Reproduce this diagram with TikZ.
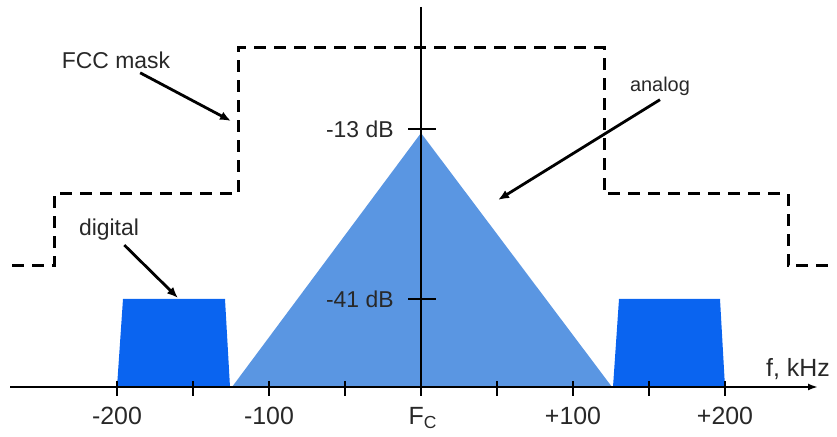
\documentclass[tikz,border=0pt]{standalone}
\usepackage{fontspec}
\setmainfont{Liberation Sans}
\usetikzlibrary{positioning,arrows.meta}
\definecolor{digblue}{RGB}{10,100,240}
\definecolor{anablue}{RGB}{90,150,226}
\definecolor{labgray}{RGB}{40,40,40}

\begin{document}
\begin{tikzpicture}[x=0.5bp, y=-0.5bp,
    >={Latex[length=5.5bp,width=4.5bp]},
    lab/.style={font=\fontsize{11.5}{13}\selectfont, text=labgray, inner sep=2bp},
    tick/.style={font=\fontsize{12.5}{14}\selectfont, text=labgray},
    mask/.style={line width=1.5bp, dash pattern=on 6bp off 4bp},
    pointer/.style={->, line width=1.4bp}]
  \useasboundingbox (0,0) rectangle (837,437);
  % spectra
  \fill[anablue] (232,387) -- (421,133) -- (612,387) -- cycle;
  \fill[digblue] (117,387) -- (123,299) -- (225,299) -- (230,387) -- cycle;
  \fill[digblue] (613,387) -- (619,299) -- (720,299) -- (725,387) -- cycle;
  % FCC mask
  \draw[mask] (12,266) -- (54,266) -- (54,194) -- (238,194) -- (238,48)
    -- (604,48) -- (604,194) -- (788,194) -- (788,266) -- (830,266);
  % axes
  \draw[line width=1bp, -{Latex[length=5bp,width=3.5bp]}] (10,387) -- (818,387);
  \draw[line width=1bp] (421,7) -- (421,387);
  \foreach \k in {-200,-150,...,200}
    \draw[line width=1bp] ({421+1.52*\k},381) -- ++(0,15);
  \draw[line width=1bp] (408,129) -- (436,129);
  \draw[line width=1bp] (408,299) -- (436,299);
  \node[lab, anchor=east] (db13) at (398,129) {-13 dB};
  \node[lab, anchor=east] (db41) at (398,299) {-41 dB};
  \foreach \k/\t in {-200/-200,-100/-100,100/+100,200/+200}
    \node[tick] (x\k) at ({421+1.52*\k},416) {\t};
  \node[tick] (fc) at (423,418) {F\textsubscript{C}};
  \node[tick] (fkhz) at (798,369) {f, kHz};
  % labels and pointers
  \node[lab] (fcc) at (116,60) {FCC mask};
  \node[lab] (digital) at (109,230) {digital};
  \node[lab, font=\fontsize{10}{11}\selectfont] (analog) at (660,86) {analog};
  \coordinate (fcctip) at (231,121);
  \coordinate (digtip) at (178,298);
  \coordinate (anatip) at (498,200);
  \draw[pointer] (fcc) -- (fcctip);
  \draw[pointer] (digital) -- (digtip);
  \draw[pointer] (analog.south) -- (anatip);
\end{tikzpicture}
\end{document}
